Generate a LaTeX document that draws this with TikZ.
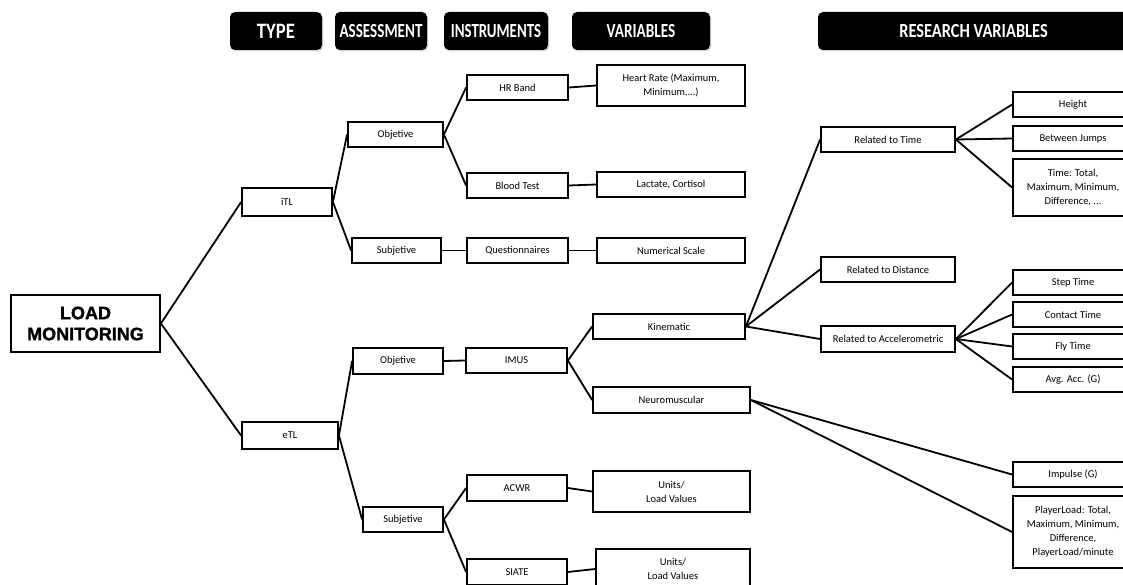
\documentclass[tikz,border=0pt]{standalone}
\usepackage{fontspec}
\setmainfont{Carlito}
\newfontfamily\heavyfont{Liberation Sans}[BoldFeatures={FakeBold=1.3}]
\usetikzlibrary{shadows}
\begin{document}
\begin{tikzpicture}[x=1pt,y=-1pt,
  box/.style={draw, line width=1.8pt, inner sep=0pt, align=center,
    font=\fontsize{10.5}{14}\selectfont, minimum height=25pt},
  hdr/.style={fill=black, rounded corners=5pt, inner sep=0pt, minimum height=38pt,
    text=white, font=\fontsize{20}{24}\selectfont\bfseries,
    drop shadow={shadow xshift=1pt,shadow yshift=-1.5pt,fill=black!35}},
  link/.style={line width=1.8pt}]
\useasboundingbox (0,0) rectangle (1123,585);
% headers
\node[hdr, minimum width=92pt, font=\fontsize{22}{26}\selectfont\bfseries]  (hType) at (276,31) {\scalebox{0.85}[1]{TYPE}};
\node[hdr, minimum width=92pt]  (hAss)  at (381,31)   {\scalebox{0.755}[1]{ASSESSMENT}};
\node[hdr, minimum width=104pt] (hIns)  at (496,31)   {\scalebox{0.745}[1]{INSTRUMENTS}};
\node[hdr, minimum width=138pt] (hVar)  at (641,31)   {\scalebox{0.76}[1]{VARIABLES}};
\node[hdr, minimum width=311pt] (hRes)  at (973.5,31) {\scalebox{0.82}[1]{RESEARCH VARIABLES}};
% level 0
\node[box, minimum width=149pt, minimum height=57pt, font=\heavyfont\fontsize{18}{21}\selectfont\bfseries]
  (load) at (85.5,323.5) {LOAD\\MONITORING};
% type
\node[box, minimum width=90pt, minimum height=28pt] (itl) at (287,202) {iTL};
\node[box, minimum width=96pt, minimum height=27pt] (etl) at (290,435.5) {eTL};
% assessment
\node[box, minimum width=95pt] (obj1) at (395.5,134.5) {Objetive};
\node[box, minimum width=89pt] (sub1) at (396.5,250.5) {Subjetive};
\node[box, minimum width=90pt, minimum height=26pt] (obj2) at (398,361) {Objetive};
\node[box, minimum width=80pt] (sub2) at (403,519.5) {Subjetive};
% instruments
\node[box, minimum width=101pt] (hr)    at (517.5,87.5)  {HR Band};
\node[box, minimum width=101pt] (blood) at (517.5,185.5) {Blood Test};
\node[box, minimum width=101pt] (quest) at (517.5,250.5) {Questionnaires};
\node[box, minimum width=101pt] (imus)  at (516.5,360.5) {IMUS};
\node[box, minimum width=100pt, minimum height=26pt] (acwr)  at (517,488) {ACWR};
\node[box, minimum width=100pt, minimum height=26pt] (siate) at (517,572) {SIATE};
% variables
\node[box, minimum width=148pt, minimum height=41pt] (heart) at (671,85.5) {Heart Rate (Maximum,\\Minimum,...)};
\node[box, minimum width=148pt] (lact) at (671,184.5) {Lactate, Cortisol};
\node[box, minimum width=148pt] (num)  at (671,250.5) {Numerical Scale};
\node[box, minimum width=152pt] (kin)  at (669,326.5) {Kinematic};
\node[box, minimum width=157pt, minimum height=26pt] (neuro) at (671.5,400) {Neuromuscular};
\node[box, minimum width=157pt, minimum height=41pt] (units1) at (671.5,491.5) {Units/\\Load Values};
\node[box, minimum width=154pt, minimum height=40pt] (units2) at (673,569) {Units/\\Load Values};
% research variables
\node[box, minimum width=134pt] (rtime) at (888,139.5) {Related to Time};
\node[box, minimum width=134pt] (rdist) at (888,269.5) {Related to Distance};
\node[box, minimum width=134pt, minimum height=26pt] (racc) at (888,339) {Related to Accelerometric};
\node[box, minimum width=120pt] (height)  at (1073,104.5) {Height};
\node[box, minimum width=120pt] (between) at (1073,138.5) {Between Jumps};
\node[box, minimum width=120pt, minimum height=57pt] (timebox) at (1073,187.5) {Time: Total,\\Maximum, Minimum,\\Difference, ...};
\node[box, minimum width=120pt] (stepT)   at (1073,282.5) {Step Time};
\node[box, minimum width=120pt] (contact) at (1073,314.5) {Contact Time};
\node[box, minimum width=120pt] (fly)     at (1073,346.5) {Fly Time};
\node[box, minimum width=120pt] (avg)     at (1073,379.5) {Avg. Acc. (G)};
\node[box, minimum width=120pt] (impulse) at (1073,474.5) {Impulse (G)};
\node[box, minimum width=120pt, minimum height=72pt] (player) at (1073,532) {PlayerLoad: Total,\\Maximum, Minimum,\\Difference,\\PlayerLoad/minute};
% connectors
\draw[link] (load.east) -- (itl.west);
\draw[link] (load.east) -- (etl.west);
\draw[link] (itl.east) -- (obj1.west);
\draw[link] (itl.east) -- (sub1.west);
\draw[link] (etl.east) -- (obj2.west);
\draw[link] (etl.east) -- (sub2.west);
\draw[link] (obj1.east) -- (hr.west);
\draw[link] (obj1.east) -- (blood.west);
\draw[link] (sub1.east) -- (quest.west);
\draw[link] (obj2.east) -- (imus.west);
\draw[link] (sub2.east) -- (acwr.west);
\draw[link] (sub2.east) -- (siate.west);
\draw[link] (hr.east) -- (heart.west);
\draw[link] (blood.east) -- (lact.west);
\draw[link] (quest.east) -- (num.west);
\draw[link] (imus.east) -- (kin.west);
\draw[link] (imus.east) -- (neuro.west);
\draw[link] (acwr.east) -- (units1.west);
\draw[link] (siate.east) -- (units2.west);
\draw[link] (kin.east) -- (rtime.west);
\draw[link] (kin.east) -- (rdist.west);
\draw[link] (kin.east) -- (racc.west);
\draw[link] (rtime.east) -- (height.west);
\draw[link] (rtime.east) -- (between.west);
\draw[link] (rtime.east) -- (timebox.west);
\draw[link] (racc.east) -- (stepT.west);
\draw[link] (racc.east) -- (contact.west);
\draw[link] (racc.east) -- (fly.west);
\draw[link] (racc.east) -- (avg.west);
\draw[link] (neuro.east) -- (impulse.west);
\draw[link] (neuro.east) -- (player.west);
\end{tikzpicture}
\end{document}
